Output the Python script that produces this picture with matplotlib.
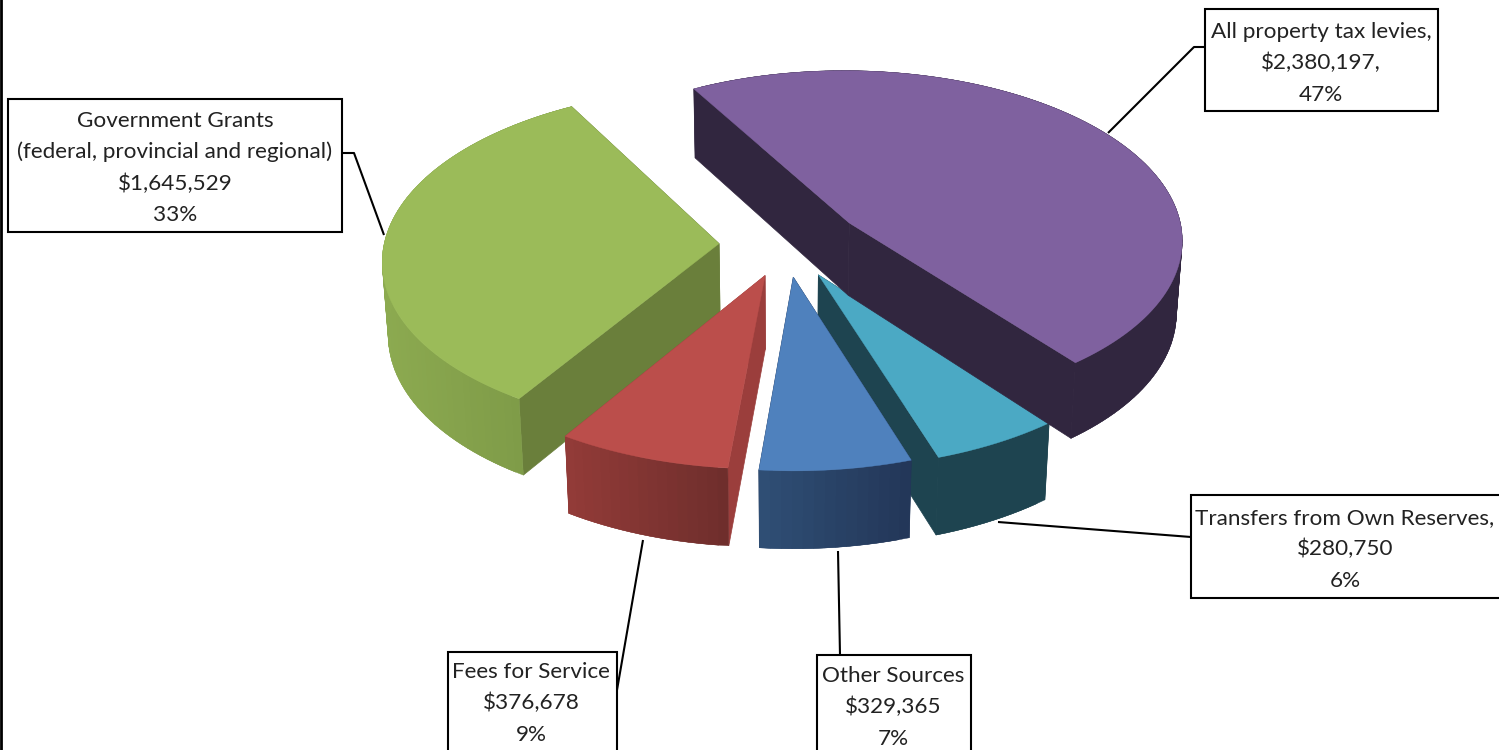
"""Exploded 3D-look pie of revenue sources, projected by hand onto a flat axes."""
import numpy as np
import matplotlib
matplotlib.use("Agg")
import matplotlib.pyplot as plt
from matplotlib.colors import to_rgb
from matplotlib.patches import Polygon, Rectangle

plt.rcParams["font.family"] = ["Lato", "DejaVu Sans"]

# clockwise from the start angle, same order as the original chart
categories = ["All property tax levies", "Transfers from Own Reserves", "Other Sources",
              "Fees for Service", "Government Grants"]
values = [2380197, 280750, 329365, 376678, 1645529]
explode = [0.23, 0.20, 0.19, 0.19, 0.20]

top_colors = ["#7F619F", "#4BA9C4", "#4F81BD", "#BB4E4B", "#9BBB59"]
wall_left = ["#31263F", "#1E4450", "#2F4F75", "#933B38", "#8CAA50"]
wall_right = ["#31263F", "#1E4450", "#233658", "#6E2E2C", "#7A9645"]
face_colors = ["#31263F", "#1E4450", "#233658", "#9B3E3C", "#6A7F3B"]
draw_order = [4, 3, 1, 0, 2]

label_texts = [
    "All property tax levies,\n$2,380,197,\n47%",
    "Transfers from Own Reserves,\n$280,750\n6%",
    "Other Sources\n$329,365\n7%",
    "Fees for Service\n$376,678\n9%",
    "Government Grants\n(federal, provincial and regional)\n$1,645,529\n33%",
]
# box x0, y0, x1, y1 in pixels, then text centre x and first baseline
label_boxes = [(1205, 9, 1438, 111), (1191, 495, 1520, 598), (817, 655, 971, 770),
               (448, 652, 617, 770), (8, 99, 342, 232)]
label_anchors = [(1321, 38), (1345, 524), (893, 682), (531, 678), (175, 127)]
LINE_PITCH = 31.3
leaders = [
    [(1205, 47), (1194, 47), (1108, 133)],
    [(1191, 537), (998, 522)],
    [(840, 655), (838, 551)],
    [(617, 690), (643, 540)],
    [(342, 153), (354, 153), (384, 235)],
]

START_ANGLE = -29.4
CX, CY = 786.0, 244.5
RADIUS = 335.0
SQUASH = 0.507
DEPTH = 74.0
PERSP = 11.0
BOTTOM_PUSH = 0.165


def project(x, y, z):
    # z=0 is the top face, z=1 the bottom of the pie
    s = PERSP / (PERSP + y + BOTTOM_PUSH * z)
    return CX + RADIUS * x * s, CY - RADIUS * SQUASH * y * s + DEPTH * z * s


def mix(c0, c1, t):
    return tuple((1 - t) * a + t * b for a, b in zip(to_rgb(c0), to_rgb(c1)))


fig = plt.figure(figsize=(14.99, 7.5), dpi=100, facecolor="white")
ax = fig.add_axes([0, 0, 1, 1])
ax.set_xlim(0, 1499)
ax.set_ylim(750, 0)
ax.axis("off")

ax.axvline(1, color="black", lw=2.0, zorder=1)

for line in leaders:
    xs, ys = zip(*line)
    ax.plot(xs, ys, color="black", lw=1.5, zorder=2, solid_capstyle="butt")

shares = np.array(values) / sum(values) * 360.0
starts = START_ANGLE + np.concatenate(([0], np.cumsum(shares)[:-1]))

zo = 5
for i in draw_order:
    a0, a1 = starts[i], starts[i] + shares[i]
    mid = np.radians((a0 + a1) / 2)
    ox, oy = explode[i] * np.sin(mid), explode[i] * np.cos(mid)
    th = np.radians(np.linspace(a0, a1, max(int(shares[i] / 1.5), 12)))
    ex, ey = ox + np.sin(th), oy + np.cos(th)

    # flat cut faces first
    for k in (0, -1):
        pts = [project(ox, oy, 0), project(ex[k], ey[k], 0),
               project(ex[k], ey[k], 1), project(ox, oy, 1)]
        ax.add_patch(Polygon(pts, closed=True, fc=face_colors[i], ec=face_colors[i],
                             lw=0.5, zorder=zo))
    zo += 1

    # curved wall, split up so the shading can run left to right
    # each piece overlaps the next one, otherwise the seams show
    ut, vt = project(ex, ey, 0)
    ub, vb = project(ex, ey, 1)
    umin, umax = ut.min(), ut.max()
    n = len(th)
    for j in range(n - 1):
        e = min(j + 2, n - 1)
        t = ((ut[j] + ut[j + 1]) / 2 - umin) / (umax - umin)
        col = mix(wall_left[i], wall_right[i], t)
        ax.add_patch(Polygon([(ut[j], vt[j]), (ut[j + 1], vt[j + 1]), (ut[e], vt[e]),
                              (ub[e], vb[e]), (ub[j + 1], vb[j + 1]), (ub[j], vb[j])],
                             closed=True, fc=col, ec=col, lw=0.3, zorder=zo))
    zo += 1

    ua, va = project(ox, oy, 0)
    ax.add_patch(Polygon(np.vstack([[ua, va], np.column_stack([ut, vt])]), closed=True,
                         fc=top_colors[i], ec=top_colors[i], lw=0.3, zorder=zo))
    zo += 1

for (x0, y0, x1, y1), (tx, ty), txt in zip(label_boxes, label_anchors, label_texts):
    ax.add_patch(Rectangle((x0, y0), x1 - x0, y1 - y0, fc="white", ec="black", lw=1.5,
                           zorder=60))
    for n_line, part in enumerate(txt.split("\n")):
        ax.text(tx, ty + n_line * LINE_PITCH, part, ha="center", va="baseline",
                fontsize=16.2, color="#222222", zorder=61, clip_on=True)

fig.savefig("out.png", dpi=100, facecolor="white")
print("Saved: out.png")
